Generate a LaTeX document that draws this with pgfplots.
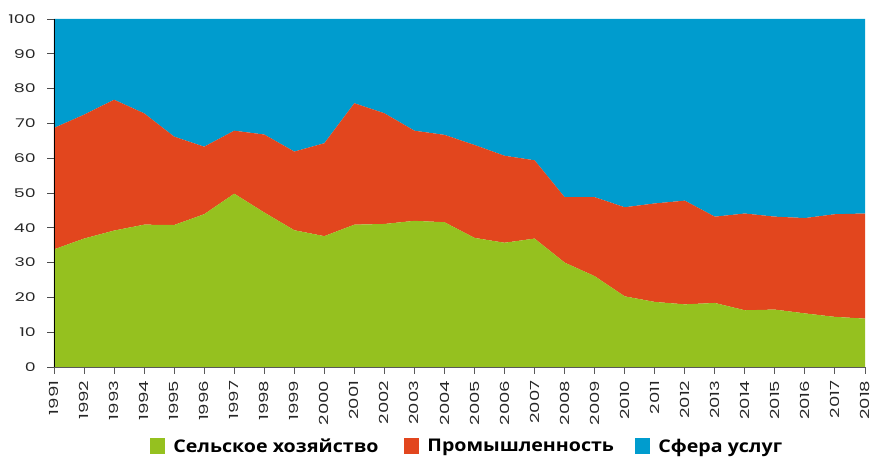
\documentclass[border=0pt]{standalone}
\usepackage{fontspec}
\usepackage{pgfplots}
\pgfplotsset{compat=1.18}
\usepackage{pgfplotstable}
\setmainfont{Open Sans}
\newfontfamily\tickfont{Poppins}[FakeStretch=1.45]
\newfontfamily\legfont{Open Sans}[FakeStretch=1.12]
\definecolor{cgreen}{HTML}{95C11F}
\definecolor{cred}{HTML}{E2461E}
\definecolor{cblue}{HTML}{009CCE}
\pgfplotstableread{
year agri ind serv
1991 33.8 34.9 31.3
1992 36.9 35.6 27.5
1993 39.2 37.6 23.2
1994 40.9 32.0 27.1
1995 40.8 25.4 33.8
1996 43.9 19.4 36.7
1997 49.8 18.1 32.1
1998 44.4 22.4 33.2
1999 39.3 22.6 38.1
2000 37.6 26.7 35.7
2001 40.9 34.9 24.2
2002 41.1 31.8 27.1
2003 42.0 25.9 32.1
2004 41.6 25.1 33.3
2005 37.1 26.7 36.2
2006 35.7 25.0 39.3
2007 36.9 22.5 40.6
2008 30.0 18.8 51.2
2009 26.1 22.7 51.2
2010 20.3 25.6 54.1
2011 18.7 28.3 53.0
2012 18.0 29.8 52.2
2013 18.4 24.8 56.8
2014 16.3 27.8 55.9
2015 16.5 26.7 56.8
2016 15.4 27.4 57.2
2017 14.4 29.5 56.1
2018 13.9 30.2 55.9
}\datatable
\begin{document}
\begin{tikzpicture}
\useasboundingbox (-54pt,-90pt) rectangle (821pt,367pt);
\begin{axis}[
  scale only axis,
  width=811pt, height=348pt,
  xmin=1991, xmax=2018, ymin=0, ymax=100,
  stack plots=y,
  axis lines*=left,
  axis on top,
  x axis line style={draw=black!65, line width=0.8pt},
  y axis line style={draw=black, line width=0.8pt},
  xtick={1991,1992,...,2018},
  ytick={0,10,...,100},
  tick align=outside,
  major tick length=7pt,
  xtick style={draw=black!65, line width=0.8pt},
  ytick style={draw=black!70, line width=0.8pt},
  /pgf/number format/1000 sep={},
  /pgf/number format/assume math mode=true,
  tick label style={font=\tickfont\fontsize{12}{13}\selectfont, text=black!85},
  xticklabel style={rotate=90, anchor=east, inner xsep=6.5pt, inner ysep=0pt,
    font=\tickfont\fontsize{12.5}{13}\selectfont},
  yticklabel style={anchor=east, inner xsep=11pt, inner ysep=0pt},
  legend columns=3,
  legend style={at={(0.511,-0.227)}, anchor=center, draw=none, fill=none,
    font=\legfont\bfseries\fontsize{17.5}{18}\selectfont,
    nodes={inner sep=0pt},
    /tikz/every odd column/.style={column sep=8pt},
    /tikz/every even column/.style={column sep=28pt},
    inner sep=0pt},
  legend image code/.code={\fill[#1] (0pt,-7.5pt) rectangle (15pt,8pt);},
]
\addplot[fill=cgreen, draw=none] table[x=year, y=agri] {\datatable} \closedcycle;
\addlegendentry{\makebox[203pt][l]{Сельское хозяйство}}
\addplot[fill=cred, draw=none] table[x=year, y=ind] {\datatable} \closedcycle;
\addlegendentry{\makebox[180pt][l]{Промышленность}}
\addplot[fill=cblue, draw=none] table[x=year, y=serv] {\datatable} \closedcycle;
\addlegendentry{\makebox[128pt][l]{Сфера услуг}}
\end{axis}
\end{tikzpicture}
\end{document}
